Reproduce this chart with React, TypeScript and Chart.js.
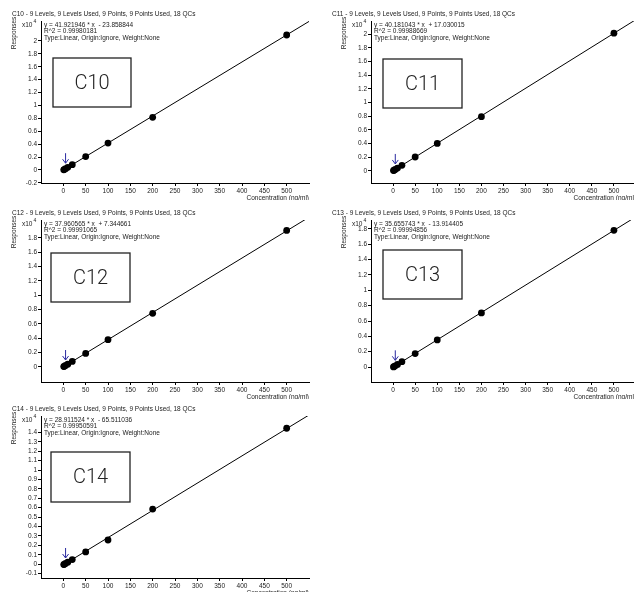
import React, { useEffect, useRef } from 'react';
import { Chart, registerables } from 'chart.js';

Chart.register(...registerables);

// ---------- data ----------
const concentrations = [1, 2, 5, 10, 20, 50, 100, 200, 500];
const compoundNames = ['C10', 'C11', 'C12', 'C13', 'C14'];
// responses in units of x10^4
const responsesC10 = [0.002, 0.006, 0.019, 0.040, 0.082, 0.207, 0.416, 0.815, 2.093];
const responsesC11 = [0.006, 0.010, 0.022, 0.042, 0.082, 0.204, 0.402, 0.792, 2.012];
const responsesC12 = [0.005, 0.008, 0.020, 0.039, 0.077, 0.188, 0.381, 0.748, 1.905];
const responsesC13 = [0.002, 0.006, 0.016, 0.034, 0.070, 0.175, 0.354, 0.705, 1.783];
const responsesC14 = [-0.004, -0.001, 0.008, 0.022, 0.050, 0.131, 0.257, 0.585, 1.443];
const slopes = [41.921946, 40.181043, 37.960565, 35.655743, 28.911524];
const intercepts = [-23.858844, 17.030015, 7.344661, -13.914405, -65.511036];
const equationLabels = [
  'y = 41.921946 * x  - 23.858844',
  'y = 40.181043 * x  + 17.030015',
  'y = 37.960565 * x  + 7.344661',
  'y = 35.655743 * x  - 13.914405',
  'y = 28.911524 * x  - 65.511036',
];
const r2Labels = ['R^2 = 0.99980181', 'R^2 = 0.99988669', 'R^2 = 0.99991065', 'R^2 = 0.99994856', 'R^2 = 0.99950591'];
const headerSuffix = ' - 9 Levels, 9 Levels Used, 9 Points, 9 Points Used, 18 QCs';
const typeLabel = 'Type:Linear, Origin:Ignore, Weight:None';
const xTicks = [0, 50, 100, 150, 200, 250, 300, 350, 400, 450, 500];
const xMin = -50;
const xMax = 550;
const yTicksC10 = [-0.2, 0, 0.2, 0.4, 0.6, 0.8, 1, 1.2, 1.4, 1.6, 1.8, 2];
const yTicksC11 = [0, 0.2, 0.4, 0.6, 0.8, 1, 1.2, 1.4, 1.6, 1.8, 2];
const yTicksC12 = [0, 0.2, 0.4, 0.6, 0.8, 1, 1.2, 1.4, 1.6, 1.8];
const yTicksC13 = [0, 0.2, 0.4, 0.6, 0.8, 1, 1.2, 1.4, 1.6, 1.8];
const yTicksC14 = [-0.1, 0, 0.1, 0.2, 0.3, 0.4, 0.5, 0.6, 0.7, 0.8, 0.9, 1, 1.1, 1.2, 1.3, 1.4];
const yMins = [-0.203, -0.176, -0.21, -0.195, -0.146];
const yMaxs = [2.31, 2.19, 2.05, 1.917, 1.573];
const arrowConcentration = 5;

const allResponses = [responsesC10, responsesC11, responsesC12, responsesC13, responsesC14];
const allYTicks = [yTicksC10, yTicksC11, yTicksC12, yTicksC13, yTicksC14];

// ---------- layout ----------
const CANVAS_W = 320;
const CANVAS_H = 200;
const PLOT_TOP = 21;
const PLOT_BOTTOM = 183;
const FONT = '"Liberation Sans", Arial, sans-serif';

const panelLayout = [
  { left: 0, top: 0, plotLeft: 41, padRight: 11, box: [53, 58, 131, 107] },
  { left: 320, top: 0, plotLeft: 51, padRight: 1, box: [63, 59, 142, 108] },
  { left: 0, top: 199, plotLeft: 41, padRight: 11, box: [51, 54, 130, 103] },
  { left: 320, top: 199, plotLeft: 51, padRight: 1, box: [63, 51, 142, 100] },
  { left: 0, top: 395, plotLeft: 41, padRight: 11, box: [51, 57, 130, 107] },
];

function fmtTick(v: number) {
  return String(Number(v.toFixed(2)));
}

function Panel({ idx }: { idx: number }) {
  const ref = useRef<HTMLCanvasElement | null>(null);
  const lay = panelLayout[idx];
  useEffect(() => {
    const canvas = ref.current;
    if (!canvas) return;
    const resp = allResponses[idx];
    const pts = concentrations.map((c, i) => ({ x: c, y: resp[i] }));
    const lineX = [0, xMax];
    const linePts = lineX.map((x) => ({ x, y: (slopes[idx] * x + intercepts[idx]) / 10000 }));
    const yTicks = allYTicks[idx];

    const overlay = {
      id: 'overlay' + idx,
      afterDraw(chart: any) {
        const ctx = chart.ctx as CanvasRenderingContext2D;
        const area = chart.chartArea;
        const xs = chart.scales.x;
        const ys = chart.scales.y;
        ctx.save();
        ctx.fillStyle = '#222';
        ctx.textBaseline = 'middle';
        ctx.textAlign = 'left';
        ctx.font = `6.5px ${FONT}`;
        ctx.fillText(compoundNames[idx] + headerSuffix, 12, 14);
        ctx.fillText(equationLabels[idx], area.left + 3, 25);
        ctx.fillText(r2Labels[idx], area.left + 3, 31);
        ctx.fillText(typeLabel, area.left + 3, 38);
        // x10^4
        ctx.fillText('x10', area.left - 19, 25);
        ctx.font = `5px ${FONT}`;
        ctx.fillText('4', area.left - 7.5, 22);
        // Responses
        ctx.font = `6.5px ${FONT}`;
        ctx.save();
        ctx.translate(area.left - 27, 33);
        ctx.rotate(-Math.PI / 2);
        ctx.textAlign = 'center';
        ctx.fillText('Responses', 0, 0);
        ctx.restore();
        // x title
        ctx.textAlign = 'right';
        ctx.fillText('Concentration (ng/ml)', area.right, area.bottom + 15);
        // label box
        const [bx1, by1, bx2, by2] = lay.box;
        ctx.fillStyle = '#fff';
        ctx.fillRect(bx1, by1, bx2 - bx1, by2 - by1);
        ctx.strokeStyle = '#222';
        ctx.lineWidth = 1.3;
        ctx.strokeRect(bx1, by1, bx2 - bx1, by2 - by1);
        ctx.fillStyle = '#222';
        ctx.textAlign = 'center';
        ctx.font = `300 20px Roboto, ${FONT}`;
        ctx.fillText(compoundNames[idx], (bx1 + bx2) / 2, (by1 + by2) / 2 + 1);
        // arrow
        const ai = concentrations.indexOf(arrowConcentration);
        const ax = xs.getPixelForValue(arrowConcentration);
        const tip = ys.getPixelForValue(resp[ai]) - 5.5;
        ctx.strokeStyle = '#2a2aa0';
        ctx.lineWidth = 1;
        ctx.beginPath();
        ctx.moveTo(ax, tip - 10);
        ctx.lineTo(ax, tip);
        ctx.moveTo(ax - 3, tip - 4);
        ctx.lineTo(ax, tip);
        ctx.lineTo(ax + 3, tip - 4);
        ctx.stroke();
        ctx.restore();
      },
    };

    const chart = new Chart(canvas, {
      type: 'scatter',
      data: {
        datasets: [
          {
            data: linePts,
            showLine: true,
            borderColor: '#000',
            borderWidth: 1,
            pointRadius: 0,
          },
          {
            data: pts,
            backgroundColor: '#000',
            borderColor: '#000',
            borderWidth: 0,
            pointRadius: 3.4,
          },
        ],
      },
      options: {
        responsive: false,
        animation: false,
        events: [],
        layout: { padding: { top: PLOT_TOP, left: 0, right: lay.padRight, bottom: 0 } },
        plugins: { legend: { display: false }, tooltip: { enabled: false }, title: { display: false } },
        scales: {
          x: {
            type: 'linear',
            min: xMin,
            max: xMax,
            afterBuildTicks: (axis: any) => {
              axis.ticks = xTicks.map((v) => ({ value: v }));
            },
            afterFit: (axis: any) => {
              axis.height = CANVAS_H - PLOT_BOTTOM;
            },
            grid: { display: true, drawOnChartArea: false, drawTicks: true, tickLength: 3, color: '#000', lineWidth: 1 },
            border: { display: true, color: '#000', width: 1 },
            ticks: {
              color: '#222',
              font: { size: 6.5, family: FONT },
              padding: 1,
              maxRotation: 0,
              autoSkip: false,
              callback: (v: any) => String(v),
            },
          },
          y: {
            type: 'linear',
            min: yMins[idx],
            max: yMaxs[idx],
            afterBuildTicks: (axis: any) => {
              axis.ticks = yTicks.map((v) => ({ value: v }));
            },
            afterFit: (axis: any) => {
              axis.width = lay.plotLeft;
            },
            grid: { display: true, drawOnChartArea: false, drawTicks: true, tickLength: 3, color: '#000', lineWidth: 1 },
            border: { display: true, color: '#000', width: 1 },
            ticks: {
              color: '#222',
              font: { size: 6.5, family: FONT },
              padding: 1,
              autoSkip: false,
              callback: (v: any) => fmtTick(Number(v)),
            },
          },
        },
      },
      plugins: [overlay],
    } as any);
    return () => chart.destroy();
  }, [idx]);

  return (
    <canvas
      ref={ref}
      width={CANVAS_W}
      height={CANVAS_H}
      style={{ position: 'absolute', left: lay.left, top: lay.top, width: CANVAS_W, height: CANVAS_H }}
    />
  );
}

export default function App() {
  return (
    <div
      style={{
        position: 'absolute',
        left: 0,
        top: 0,
        width: 634,
        height: 592,
        overflow: 'hidden',
        background: '#fff',
      }}
    >
      {compoundNames.map((_, i) => (
        <Panel key={i} idx={i} />
      ))}
    </div>
  );
}
